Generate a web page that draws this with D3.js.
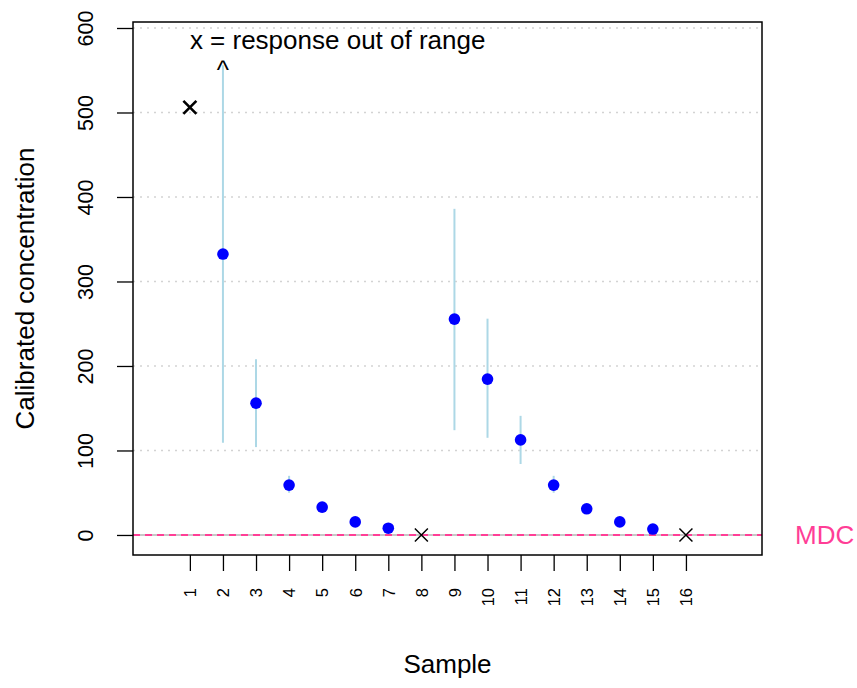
<!DOCTYPE html>
<html>
<head>
<meta charset="utf-8">
<script src="https://cdn.jsdelivr.net/npm/d3@7"></script>
<style>
  body { margin: 0; background: #fff; }
  text { font-family: "Liberation Sans", Arial, sans-serif; }
</style>
</head>
<body>
<div id="my_dataviz"></div>
<script>
// data
const samples = [1, 2, 3, 4, 5, 6, 7, 8, 9, 10, 11, 12, 13, 14, 15, 16];
const conc = [506, 332.5, 156, 59, 33, 15.5, 8, 0, 255.5, 184.5, 112.5, 59, 31, 15.5, 7, 0];
const outOfRange = [true, false, false, false, false, false, false, true, false, false, false, false, false, false, false, true];
const lower = [null, 109, 104, 50, 31, 14, 7, null, 124, 115, 84, 50, 29, 14, 6, null];
const upper = [null, 556, 208, 70, 35, 17, 9, null, 386, 256, 141, 70, 33, 17, 8, null];
const upperCapped = [false, true, false, false, false, false, false, false, false, false, false, false, false, false, false, false];
const yTicks = [0, 100, 200, 300, 400, 500, 600];
const mdc = 0;

const data = samples.map((s, i) => ({
  sample: s, conc: conc[i], out: outOfRange[i],
  lo: lower[i], hi: upper[i], capped: upperCapped[i]
}));

// set the dimensions and margins of the graph
const margin = {top: 22, right: 95, bottom: 133, left: 133},
    width = 857 - margin.left - margin.right,
    height = 688 - margin.top - margin.bottom;

const svg = d3.select("#my_dataviz")
  .append("svg")
    .attr("width", width + margin.left + margin.right)
    .attr("height", height + margin.top + margin.bottom)
  .append("g")
    .attr("transform", `translate(${margin.left},${margin.top})`);

const x = d3.scaleLinear().domain([-0.72, 18.3]).range([0, width]);
const y = d3.scaleLinear().domain([-23.7, 607.1]).range([height, 0]);

// dotted grid
svg.selectAll(".grid")
  .data(yTicks.filter(d => d > 0))
  .join("line")
    .attr("x1", 0).attr("x2", width)
    .attr("y1", d => y(d)).attr("y2", d => y(d))
    .attr("stroke", "#d3d3d3")
    .attr("stroke-width", 1.5)
    .attr("stroke-dasharray", "2,5");

// MDC line: grey base + pink dashes
svg.append("line")
  .attr("x1", 0).attr("x2", width)
  .attr("y1", y(mdc)).attr("y2", y(mdc))
  .attr("stroke", "#c8c8c8").attr("stroke-width", 2);
svg.append("line")
  .attr("x1", 0).attr("x2", width)
  .attr("y1", y(mdc)).attr("y2", y(mdc))
  .attr("stroke", "#ff3e96").attr("stroke-width", 2)
  .attr("stroke-dasharray", "7,5");

// Y axis
const yAxis = svg.append("g")
  .call(d3.axisLeft(y).tickValues(yTicks).tickSize(16).tickFormat(d3.format("d")));
yAxis.select(".domain").remove();
yAxis.selectAll("line").attr("stroke", "#000").attr("stroke-width", 1.3);
yAxis.selectAll("text")
  .attr("x", 0).attr("dy", 0)
  .attr("text-anchor", "middle")
  .attr("transform", "translate(-40,0) rotate(-90)")
  .style("font-size", "21.5px")
  .attr("fill", "#000");

// X axis
const xAxis = svg.append("g")
  .attr("transform", `translate(0, ${height})`)
  .call(d3.axisBottom(x).tickValues(samples).tickSize(16).tickFormat(d3.format("d")));
xAxis.select(".domain").remove();
xAxis.selectAll("line").attr("stroke", "#000").attr("stroke-width", 1.3);
xAxis.selectAll("text")
  .attr("x", 0).attr("y", 0).attr("dy", "0.35em")
  .attr("text-anchor", "end")
  .attr("transform", "translate(0,33) rotate(-90)")
  .style("font-size", "16.5px")
  .attr("fill", "#000");

// box
svg.append("rect")
  .attr("x", 0).attr("y", 0).attr("width", width).attr("height", height)
  .attr("fill", "none").attr("stroke", "#000").attr("stroke-width", 1.5);

// error bars
const inRange = data.filter(d => !d.out);
svg.selectAll(".bar")
  .data(inRange)
  .join("line")
    .attr("x1", d => x(d.sample)).attr("x2", d => x(d.sample))
    .attr("y1", d => y(d.lo)).attr("y2", d => y(d.hi))
    .attr("stroke", "#add8e6").attr("stroke-width", 2);

// caret for capped upper limits
svg.selectAll(".caret")
  .data(data.filter(d => d.capped))
  .join("text")
    .attr("x", d => x(d.sample)).attr("y", d => y(d.hi))
    .attr("dy", "0.55em")
    .attr("text-anchor", "middle")
    .style("font-size", "26px")
    .text("^");

// points
svg.selectAll(".pt")
  .data(inRange)
  .join("circle")
    .attr("cx", d => x(d.sample)).attr("cy", d => y(d.conc))
    .attr("r", 5.8)
    .attr("fill", "#0000ff");

// out of range crosses
const s = 6.5;
svg.selectAll(".cross")
  .data(data.filter(d => d.out))
  .join("path")
    .attr("d", d => {
      const cx = x(d.sample), cy = y(d.conc);
      return `M${cx - s},${cy - s}L${cx + s},${cy + s}M${cx - s},${cy + s}L${cx + s},${cy - s}`;
    })
    .attr("stroke", "#000")
    .attr("stroke-width", d => d.conc > 0 ? 2.6 : 1.5)
    .attr("fill", "none");

// labels
svg.append("text")
  .attr("x", x(1)).attr("y", y(586)).attr("dy", "0.35em")
  .style("font-size", "26px")
  .text("x = response out of range");

svg.append("text")
  .attr("x", width + 33).attr("y", y(mdc)).attr("dy", "0.35em")
  .style("font-size", "26px")
  .attr("fill", "#ff3e96")
  .text("MDC");

svg.append("text")
  .attr("x", width / 2).attr("y", 651)
  .attr("text-anchor", "middle")
  .style("font-size", "26px")
  .text("Sample");

svg.append("text")
  .attr("transform", `translate(${34 - margin.left},${height / 2}) rotate(-90)`)
  .attr("text-anchor", "middle")
  .style("font-size", "26px")
  .text("Calibrated  concentration");
</script>
</body>
</html>
